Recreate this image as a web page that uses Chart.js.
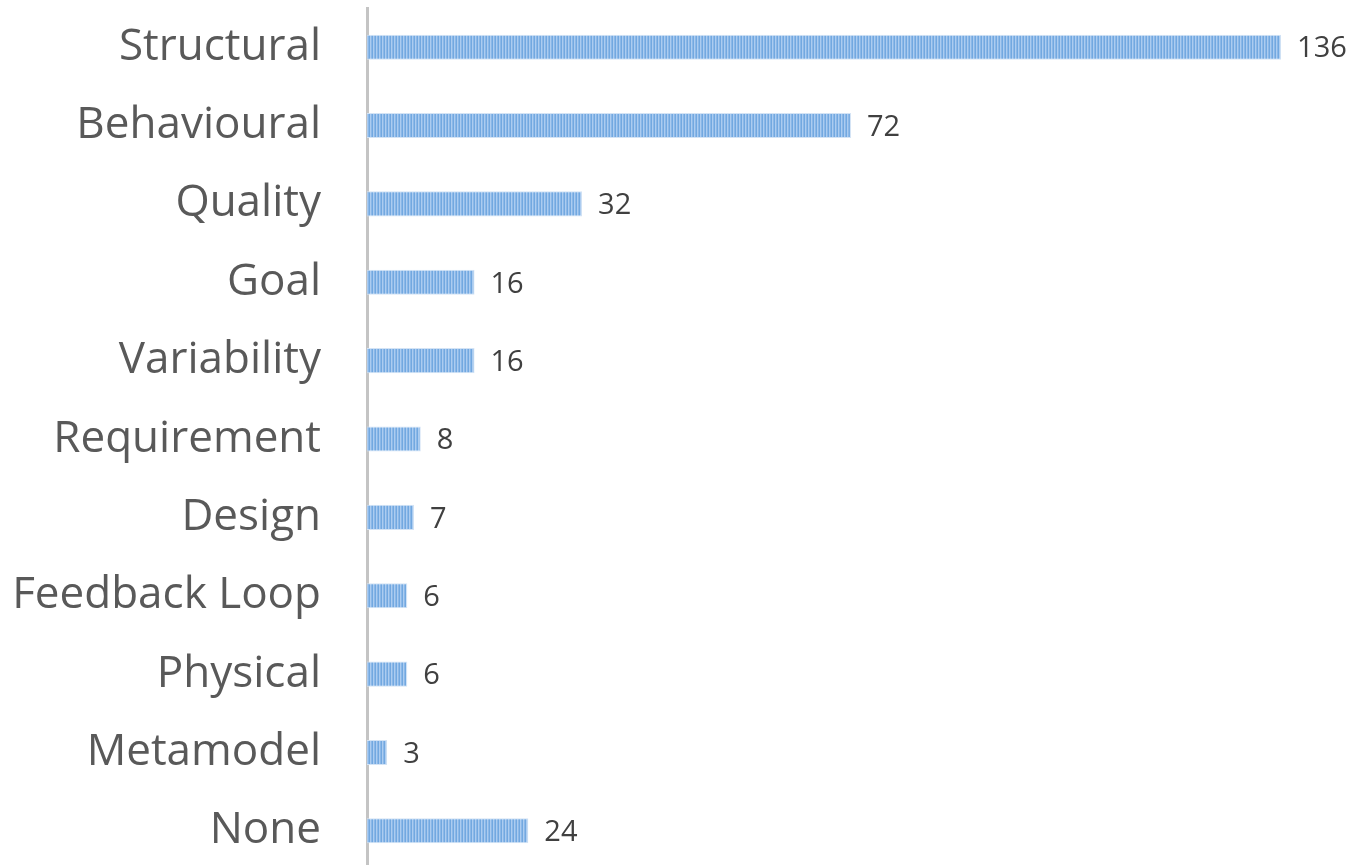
<!DOCTYPE html>
<html>
<head>
<meta charset="utf-8">
<script src="https://cdn.jsdelivr.net/npm/chart.js@4"></script>
<style>
    html, body { margin: 0; padding: 0; background: #fff; overflow: hidden; }
    #wrap { position: absolute; left: 0; top: 0; width: 1354px; height: 870px; }
</style>
</head>
<body>
<div id="wrap"><canvas id="myChart"></canvas></div>
<script>
        const categories = ['Structural', 'Behavioural', 'Quality', 'Goal', 'Variability', 'Requirement',
            'Design', 'Feedback Loop', 'Physical', 'Metamodel', 'None'];
        const counts = [136, 72, 32, 16, 16, 8, 7, 6, 6, 3, 24];

        // striped fill like the original bars
        function makeStripes() {
            const c = document.createElement('canvas');
            c.width = 3; c.height = 10;
            const g = c.getContext('2d');
            const cols = ['#72a8e0', '#acccf0', '#8bb8e8'];
            cols.forEach((col, i) => { g.fillStyle = col; g.fillRect(i, 0, 1, 10); });
            return g.createPattern(c, 'repeat');
        }

        const valueLabels = {
            id: 'valueLabels',
            afterDatasetsDraw(chart) {
                const ctx = chart.ctx;
                const meta = chart.getDatasetMeta(0);
                ctx.save();
                ctx.font = '29px "Open Sans"';
                ctx.fillStyle = '#404040';
                ctx.textAlign = 'left';
                ctx.textBaseline = 'middle';
                meta.data.forEach((bar, i) => {
                    ctx.fillText(counts[i], bar.x + 16, bar.y + 2);
                });
                ctx.restore();
            }
        };

        const ctx = document.getElementById('myChart').getContext('2d');
        const myChart = new Chart(ctx, {
            type: 'bar',
            data: {
                labels: categories,
                datasets: [{
                    data: counts,
                    backgroundColor: makeStripes(),
                    borderColor: '#d3e3f5',
                    borderWidth: 1,
                    barPercentage: 0.32,
                    categoryPercentage: 1
                }]
            },
            options: {
                indexAxis: 'y',
                responsive: true,
                maintainAspectRatio: false,
                animation: false,
                layout: { padding: { top: 8, right: 46, bottom: 0, left: 0 } },
                plugins: { legend: { display: false }, tooltip: { enabled: false } },
                scales: {
                    x: { display: false, min: 0, max: 140 },
                    y: {
                        grid: { display: false },
                        border: { display: true, color: '#c4c4c4', width: 3 },
                        ticks: {
                            padding: 38,
                            color: '#595959',
                            font: { family: 'Open Sans', size: 44 }
                        },
                        afterFit(scale) {
                            scale.width = 367;
                            scale.paddingTop = 0;
                            scale.paddingBottom = 0;
                        }
                    }
                }
            },
            plugins: [valueLabels]
        });
</script>
</body>
</html>
